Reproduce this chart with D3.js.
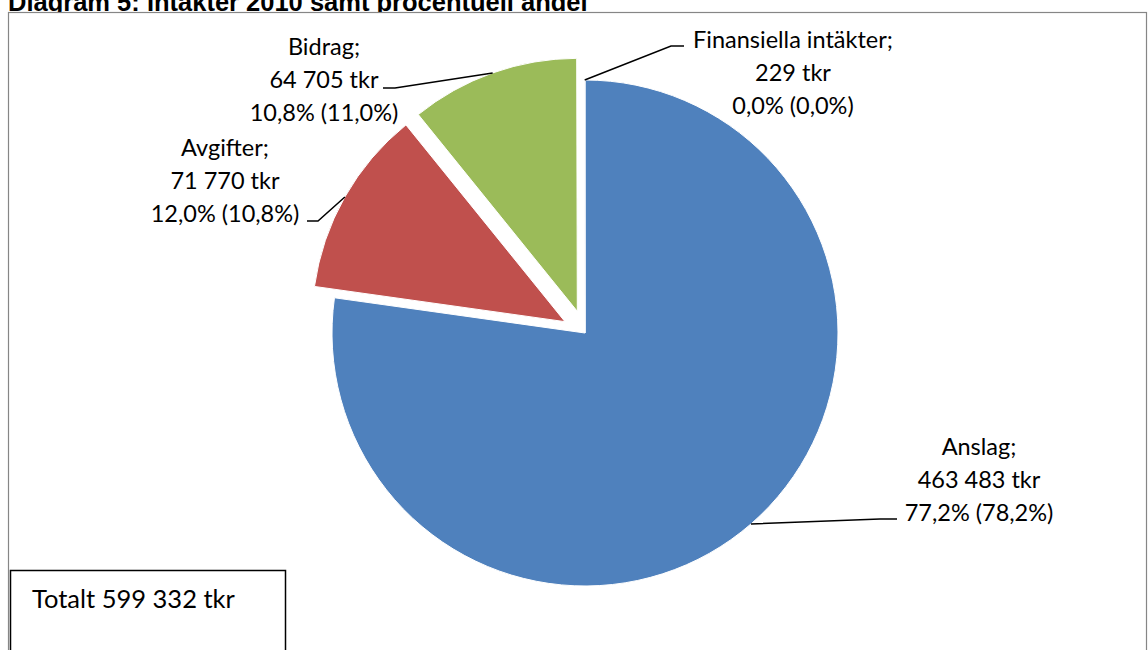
<!DOCTYPE html>
<html>
<head>
<meta charset="utf-8">
<script src="https://cdn.jsdelivr.net/npm/d3@7"></script>
<style>
  body { margin: 0; background: #fff; }
  svg { display: block; }
</style>
</head>
<body>
<div id="chart"></div>
<script>
// data
var categories = ["Anslag", "Avgifter", "Bidrag", "Finansiella intäkter"];
var values = [463483, 71770, 64705, 229];
var prevYearPct = [78.2, 10.8, 11.0, 0.0];
var totalLabel = "Totalt 599 332 tkr";
var title = "Diagram 5: Intäkter 2010 samt procentuell andel";

var colors = ["#4F81BD", "#C0504D", "#9BBB59", "#8064A2"];
var exploded = [false, true, true, false];

var width = 1148, height = 650;
var cx = 585, cy = 333, radius = 253, explodeDist = 23;
var lineH = 33;

// label layout: centre x, first baseline, leader elbow and end
var labelLayout = [
  {x: 979, y: 455, elbow: [880, 519], end: [897, 519]},
  {x: 225, y: 156, elbow: [318, 221], end: [307, 221]},
  {x: 324, y: 55,  elbow: [395, 88],  end: [383, 88]},
  {x: 793, y: 48,  elbow: [671, 46],  end: [684, 46]}
];

var fmtNum = function(v) { return d3.format(",")(v).replace(/,/g, " "); };
var fmtPct = function(p) { return d3.format(".1f")(p).replace(".", ",") + "%"; };

var svg = d3.select("#chart").append("svg")
  .attr("width", width)
  .attr("height", height);

// title (its top is cut off in the reference too)
svg.append("text")
  .attr("x", 8).attr("y", 11)
  .attr("font-family", "Liberation Sans, Arial, sans-serif")
  .attr("font-weight", "bold")
  .attr("font-size", "25.5px")
  .attr("fill", "#000")
  .text(title);

// chart frame
svg.append("rect")
  .attr("x", 8.5).attr("y", 12.5)
  .attr("width", 1138).attr("height", 700)
  .attr("fill", "#fff")
  .attr("stroke", "#868686")
  .attr("stroke-width", 1.2);

var total = d3.sum(values);
var pie = d3.pie().sort(null).value(function(d) { return d; });
var arcs = pie(values);
var arc = d3.arc().innerRadius(0).outerRadius(radius);

function offsetOf(d, i) {
  var mid = (d.startAngle + d.endAngle) / 2;
  var k = exploded[i] ? explodeDist : 0;
  return [Math.sin(mid) * k, -Math.cos(mid) * k];
}

var g = svg.append("g").attr("transform", "translate(" + cx + "," + cy + ")");

g.selectAll("path.slice")
  .data(arcs)
  .enter()
  .append("path")
    .attr("class", "slice")
    .attr("d", arc)
    .attr("transform", function(d, i) {
      var o = offsetOf(d, i);
      return "translate(" + o[0] + "," + o[1] + ")";
    })
    .attr("fill", function(d, i) { return colors[i]; })
    .attr("stroke", "#fff")
    .attr("stroke-width", 1);

// leader lines from slice mid-arc to labels
arcs.forEach(function(d, i) {
  var mid = (d.startAngle + d.endAngle) / 2;
  var o = offsetOf(d, i);
  var sx = cx + o[0] + Math.sin(mid) * radius;
  var sy = cy + o[1] - Math.cos(mid) * radius;
  var L = labelLayout[i];
  svg.append("path")
    .attr("d", d3.line()([[sx, sy], L.elbow, L.end]))
    .attr("fill", "none")
    .attr("stroke", "#000")
    .attr("stroke-width", 1.5);

  var lines = [
    categories[i] + ";",
    fmtNum(values[i]) + " tkr",
    fmtPct(values[i] / total * 100) + " (" + fmtPct(prevYearPct[i]) + ")"
  ];
  var t = svg.append("text")
    .attr("text-anchor", "middle")
    .attr("font-family", "Lato, 'Open Sans', sans-serif")
    .attr("font-size", "23.5px")
    .attr("fill", "#000");
  lines.forEach(function(s, j) {
    t.append("tspan").attr("x", L.x).attr("y", L.y + j * lineH).text(s);
  });
});

// total box
svg.append("rect")
  .attr("x", 10.5).attr("y", 570.5)
  .attr("width", 275).attr("height", 120)
  .attr("fill", "#fff")
  .attr("stroke", "#000")
  .attr("stroke-width", 1.5);
svg.append("text")
  .attr("x", 32).attr("y", 608)
  .attr("font-family", "Lato, 'Open Sans', sans-serif")
  .attr("font-size", "25.5px")
  .attr("fill", "#000")
  .text(totalLabel);
</script>
</body>
</html>
